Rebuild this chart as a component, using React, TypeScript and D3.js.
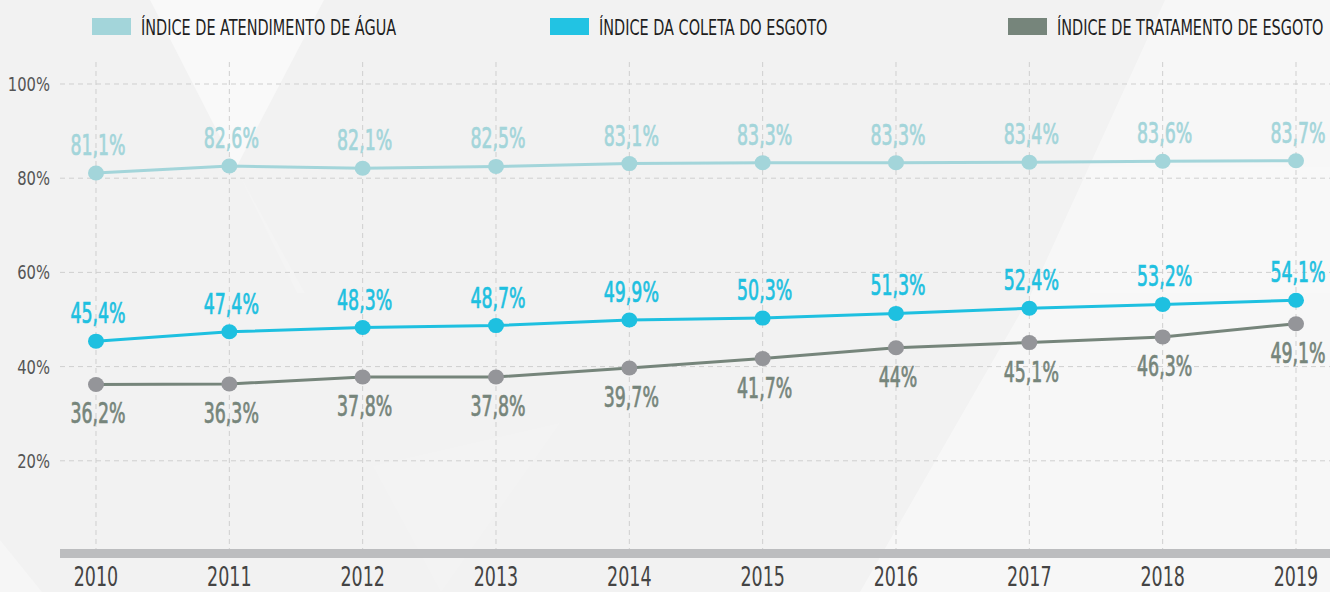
import React, { useEffect } from "react";
import * as d3 from "d3";

const years = [2010, 2011, 2012, 2013, 2014, 2015, 2016, 2017, 2018, 2019];
const agua = [81.1, 82.6, 82.1, 82.5, 83.1, 83.3, 83.3, 83.4, 83.6, 83.7];
const coleta = [45.4, 47.4, 48.3, 48.7, 49.9, 50.3, 51.3, 52.4, 53.2, 54.1];
const tratamento = [36.2, 36.3, 37.8, 37.8, 39.7, 41.7, 44, 45.1, 46.3, 49.1];
const yTicks = [20, 40, 60, 80, 100];
const legendLabels = [
  "ÍNDICE DE ATENDIMENTO DE ÁGUA",
  "ÍNDICE DA COLETA DO ESGOTO",
  "ÍNDICE DE TRATAMENTO DE ESGOTO",
];

const W = 1330;
const H = 592;
const FONT = "'DejaVu Sans Condensed', 'DejaVu Sans', sans-serif";

const fmt = (v: number) => String(v).replace(".", ",") + "%";

function CText({ x, y, sx = 0.85, size, fill, anchor = "middle", bold = 0, children }: any) {
  return (
    <text
      transform={`translate(${x},${y}) scale(${sx},1)`}
      textAnchor={anchor}
      fontFamily={FONT}
      fontSize={size}
      fill={fill}
      stroke={bold ? fill : "none"}
      strokeWidth={bold}
      style={{ fontStretch: "condensed" }}
    >
      {children}
    </text>
  );
}

export default function App() {
  useEffect(() => {
    document.body.style.margin = "0";
  }, []);

  const x = d3.scalePoint<number>().domain(years).range([96, 1296]).padding(0);
  const y = d3.scaleLinear().domain([0, 100]).range([555, 84]);

  const series = [
    { vals: agua, line: "#a3d5da", dot: "#a3d5da", label: "#a3d5da", pos: "above" },
    { vals: coleta, line: "#1ec0e0", dot: "#1ec0e0", label: "#1ec0e0", pos: "above" },
    { vals: tratamento, line: "#76857b", dot: "#949599", label: "#76857b", pos: "below" },
  ];
  const legendColors = ["#a3d5da", "#22c3e3", "#76857b"];
  const legendX = [92, 550, 1008];

  const lineGen = d3
    .line<number>()
    .x((_, i) => x(years[i]) as number)
    .y((d) => y(d));

  return (
    <svg width={W} height={H} style={{ display: "block" }}>
      <rect x={0} y={0} width={W} height={H} fill="#f2f2f2" />
      {/* subtle background shapes */}
      <polygon points="150,0 324,0 236,168" fill="#ffffff" opacity={0.5} />
      <polygon points="236,168 305,293 297,293" fill="#ffffff" opacity={0.15} />
      <polygon points="1165,0 1330,0 1330,592 860,592 1030,296" fill="#ffffff" opacity={0.4} />
      <polygon points="1090,167 1330,167 1330,293 1090,293" fill="#ffffff" opacity={0.12} />
      <polygon points="373,466 560,423 441,592" fill="#ffffff" opacity={0.12} />
      <polygon points="0,540 42,592 0,592" fill="#ffffff" opacity={0.3} />

      {/* legend */}
      {legendLabels.map((l, i) => (
        <g key={l}>
          <rect x={legendX[i]} y={18} width={39} height={17} fill={legendColors[i]} />
          <CText x={legendX[i] + 49} y={35} size={21} fill="#1e1e1e" anchor="start" sx={0.765}>
            {l}
          </CText>
        </g>
      ))}

      {/* horizontal grid */}
      {yTicks.map((t) => (
        <g key={t}>
          <line x1={60} x2={W} y1={y(t)} y2={y(t)} stroke="#cfcfcf" strokeDasharray="5,4" strokeWidth={1} />
          <CText x={50} y={y(t) + 7} size={20} fill="#555" anchor="end" sx={0.82}>
            {t + "%"}
          </CText>
        </g>
      ))}
      {/* vertical grid */}
      {years.map((yr) => (
        <line key={yr} x1={x(yr)} x2={x(yr)} y1={62} y2={549} stroke="#cfcfcf" strokeDasharray="5,4" strokeWidth={1} />
      ))}

      {/* axis bar */}
      <rect x={60} y={549} width={W - 60} height={9} fill="#bcbdbf" />
      {years.map((yr) => (
        <CText key={yr} x={x(yr)} y={586} size={27} fill="#444" sx={0.72}>
          {yr}
        </CText>
      ))}

      {/* series */}
      {series.map((s, si) => (
        <g key={si}>
          <path d={lineGen(s.vals) || ""} fill="none" stroke={s.line} strokeWidth={3} />
          {s.vals.map((v, i) => (
            <ellipse key={i} cx={x(years[i])} cy={y(v)} rx={8} ry={7.5} fill={s.dot} />
          ))}
          {s.vals.map((v, i) => (
            <CText
              key={"l" + i}
              x={(x(years[i]) as number) + 2}
              y={s.pos === "above" ? y(v) - 18 : y(v) + 39}
              size={28}
              fill={s.label}
              sx={0.69}
              bold={0.7}
            >
              {fmt(v)}
            </CText>
          ))}
        </g>
      ))}
    </svg>
  );
}
